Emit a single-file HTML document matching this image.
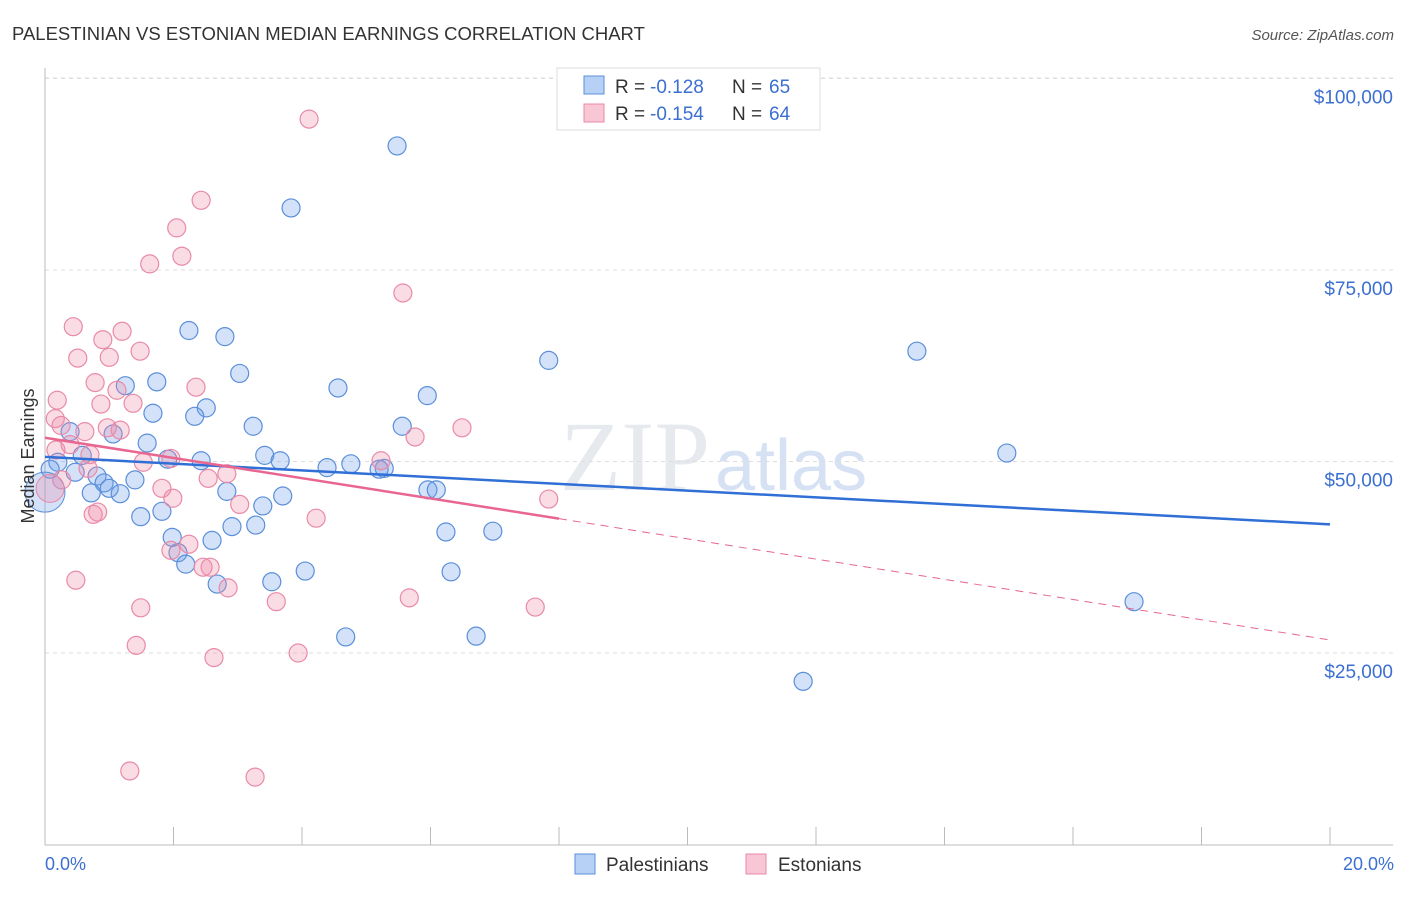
<!DOCTYPE html>
<html><head><meta charset="utf-8"><style>
body{margin:0;background:#fff;font-family:"Liberation Sans",sans-serif;}
</style></head><body>
<svg id="c" width="1406" height="892" xmlns="http://www.w3.org/2000/svg">
<text x="12" y="40" font-size="18.5" fill="#333">PALESTINIAN VS ESTONIAN MEDIAN EARNINGS CORRELATION CHART</text>
<text x="1394" y="40" font-size="15" fill="#555" text-anchor="end" font-style="italic">Source: ZipAtlas.com</text>
<text x="560" y="490" font-size="100" fill="#e6e9ee" font-family="Liberation Serif,serif">ZIP</text>
<text x="715" y="490" font-size="72" fill="#d6e2f4">atlas</text>
<g id="grid"></g><g id="axes"></g><g id="pts"></g><g id="trend"></g>
<text transform="translate(34,456) rotate(-90)" font-size="18" fill="#333" text-anchor="middle">Median Earnings</text>
<text x="45" y="870" font-size="18" fill="#3b6fd1">0.0%</text>
<text x="1394" y="870" font-size="18" fill="#3b6fd1" text-anchor="end">20.0%</text>
<g>
<rect x="557" y="68" width="263" height="62" fill="#fff" stroke="#ddd"/>
<rect x="584" y="76" width="20" height="18" fill="#b7d0f5" stroke="#5b8fd9"/>
<rect x="584" y="104" width="20" height="18" fill="#f9c6d6" stroke="#e98aa8"/>
<text x="615" y="93" font-size="19" fill="#333">R =</text>
<text x="650" y="93" font-size="19" fill="#3b6fd1">-0.128</text>
<text x="732" y="93" font-size="19" fill="#333">N =</text>
<text x="769" y="93" font-size="19" fill="#3b6fd1">65</text>
<text x="615" y="120" font-size="19" fill="#333">R =</text>
<text x="650" y="120" font-size="19" fill="#3b6fd1">-0.154</text>
<text x="732" y="120" font-size="19" fill="#333">N =</text>
<text x="769" y="120" font-size="19" fill="#3b6fd1">64</text>
</g>
<g>
<rect x="575" y="854" width="20" height="20" fill="#b7d0f5" stroke="#5b8fd9"/>
<text x="606" y="871" font-size="19" fill="#333">Palestinians</text>
<rect x="746" y="854" width="20" height="20" fill="#f9c6d6" stroke="#e98aa8"/>
<text x="778" y="871" font-size="19" fill="#333">Estonians</text>
</g>
</svg>
<script>
const yTicks=[25000,50000,75000,100000];
const yTickLabels=["$25,000","$50,000","$75,000","$100,000"];
const xTicks=[0,2,4,6,8,10,12,14,16,18,20];
const palX=[5.48,3.83,2.24,2.80,13.57,7.84,3.03,1.74,1.25,4.56,5.95,2.51,1.68,2.33,5.56,3.24,0.39,1.06,1.59,14.97,0.58,3.42,1.91,3.66,2.43,4.76,0.2,4.39,5.28,5.2,0.08,0.47,0.81,1.4,0.92,1.0,5.96,6.09,2.83,0.72,1.17,3.7,3.39,1.82,1.49,2.91,3.28,6.24,6.97,2.6,1.98,2.07,2.19,4.05,6.32,3.53,2.68,16.95,4.68,6.71,11.8];
const palY=[91200,83100,67100,66300,64400,63200,61500,60400,59900,59600,58600,57000,56300,55900,54600,54600,53900,53600,52400,51100,50800,50800,50300,50100,50100,49700,49900,49200,49100,49000,49000,48600,48100,47600,47200,46500,46300,46300,46100,45900,45800,45500,44200,43500,42800,41500,41700,40800,40900,39700,40100,38100,36600,35700,35600,34300,34000,31700,27100,27200,21300];
const estX=[4.11,2.43,2.05,2.13,1.63,5.57,0.44,1.2,0.9,1.48,0.51,1.0,0.78,2.35,1.12,0.19,0.87,1.37,0.16,0.25,6.49,0.97,1.17,0.62,5.76,0.39,0.17,0.7,1.96,5.23,1.53,0.67,2.83,2.54,0.26,1.82,1.99,7.84,3.03,0.82,0.75,4.22,2.24,1.96,2.46,2.57,0.48,2.85,5.67,3.6,1.49,7.63,1.42,3.94,2.63,1.32,3.27];
const estY=[94700,84100,80500,76800,75800,72000,67600,67000,65900,64400,63500,63600,60300,59700,59300,58000,57500,57600,55600,54700,54400,54400,54100,53900,53200,52200,51500,50900,50400,50100,49900,49100,48400,47800,47600,46500,45200,45100,44400,43400,43100,42600,39200,38400,36200,36200,34500,33500,32200,31700,30900,31000,26000,25000,24400,9600,8800];
const palTrend=[50600,41800];
const estTrend=[53100,26700];
const estSolidEnd=8;
const NS="http://www.w3.org/2000/svg";
const X=v=>45+v*64.25, Y=v=>844.5-v/130.55;
function mk(t,a,p){const e=document.createElementNS(NS,t);for(const k in a)e.setAttribute(k,a[k]);p.appendChild(e);return e;}
const g=document.getElementById('grid'),ax=document.getElementById('axes'),pts=document.getElementById('pts'),tr=document.getElementById('trend');
yTicks.forEach((v,i)=>{
 const l=mk('line',{x1:45,x2:1393,y1:Y(v),y2:Y(v),stroke:'#ddd','stroke-dasharray':'4,4'},g);
 
 
 const t=mk('text',{x:1393,y:Y(v)+25,'font-size':19,fill:'#3b6fd1','text-anchor':'end'},g);
 t.textContent=yTickLabels[i];
 
 
});
mk('line',{x1:45,x2:1393,y1:78,y2:78,stroke:'#ddd','stroke-dasharray':'4,4'},g);
const xa=mk('line',{x1:45,x2:1393,y1:845,y2:845,stroke:'#bbb'},ax);


const ya=mk('line',{x1:45,x2:45,y1:68,y2:845,stroke:'#bbb'},ax);


xTicks.forEach(v=>{const l=mk('line',{x1:X(v),x2:X(v),y1:827,y2:845,stroke:'#bbb'},ax);
 
 });
function dots(xs,ys,fill,stroke,name){xs.forEach((x,i)=>{
 const c=mk('circle',{cx:X(x),cy:Y(ys[i]),r:9,fill:fill,stroke:stroke,'stroke-width':1.2},pts);
 
 });}
dots(palX,palY,'rgba(110,160,235,0.3)','#5b8fd9','palestinian-point');
dots(estX,estY,'rgba(240,140,170,0.3)','#e98aa8','estonian-point');
const b1=mk('circle',{cx:X(0),cy:Y(46000),r:20,fill:'rgba(110,160,235,0.3)',stroke:'#5b8fd9'},pts);


const b2=mk('circle',{cx:X(0.08),cy:Y(46500),r:14,fill:'rgba(240,140,170,0.3)',stroke:'#e98aa8'},pts);


const pt=mk('line',{x1:X(0),y1:Y(palTrend[0]),x2:X(20),y2:Y(palTrend[1]),stroke:'#2f6fd6','stroke-width':2.5},tr);


const ey=x=>estTrend[0]+(estTrend[1]-estTrend[0])*x/20;
const es=mk('line',{x1:X(0),y1:Y(ey(0)),x2:X(estSolidEnd),y2:Y(ey(estSolidEnd)),stroke:'#e8668f','stroke-width':2.5},tr);


const ed=mk('line',{x1:X(estSolidEnd),y1:Y(ey(estSolidEnd)),x2:X(20),y2:Y(ey(20)),stroke:'#e8668f','stroke-width':1,'stroke-dasharray':'8,6'},tr);


</script>
</body></html>
